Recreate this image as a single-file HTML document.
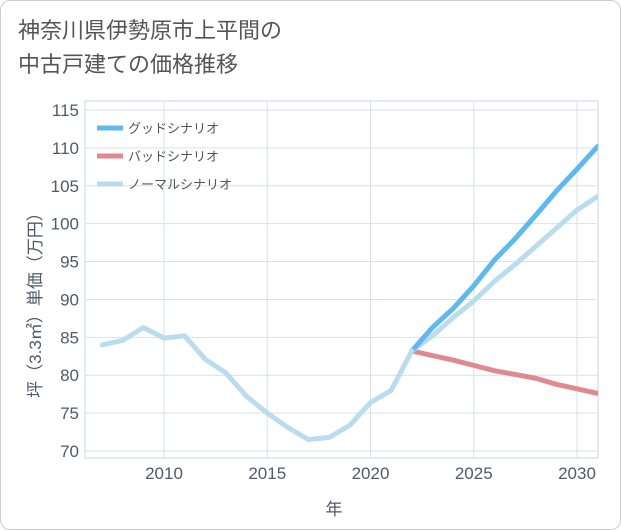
<!DOCTYPE html>
<html><head><meta charset="utf-8"><style>
body{margin:0;background:#fff;font-family:"Liberation Sans","Noto Sans CJK JP",sans-serif;}
#wrap{position:relative;width:619px;height:528px;border:1px solid #ccc;border-radius:10px;overflow:hidden;background:#fff}
#title{position:absolute;left:17px;top:13px;font-size:22px;line-height:34px;color:#555;}
svg{position:absolute;left:0;top:0}
</style></head><body>
<div id="wrap">
<div id="title">神奈川県伊勢原市上平間の<br>中古戸建ての価格推移</div>
<svg id="chart" width="621" height="530"></svg>
</div>
<script>
const histYears=[2007,2008,2009,2010,2011,2012,2013,2014,2015,2016,2017,2018,2019,2020,2021,2022];
const histValues=[84,84.6,86.3,84.9,85.2,82.1,80.3,77.2,75,73.1,71.5,71.8,73.4,76.4,78,83.2];
const futYears=[2022,2023,2024,2025,2026,2027,2028,2029,2030,2031];
const goodValues=[83.2,86.3,88.8,91.8,95.2,98.0,101.1,104.3,107.2,110.2];
const badValues=[83.2,82.6,82.0,81.3,80.6,80.1,79.6,78.8,78.2,77.6];
const normalValues=[83.2,85.2,87.6,89.8,92.4,94.6,97.0,99.4,101.8,103.6];
const yTicks=[70,75,80,85,90,95,100,105,110,115];
const xTicks=[2010,2015,2020,2025,2030];
const legendLabels=["グッドシナリオ","バッドシナリオ","ノーマルシナリオ"];
const NS="http://www.w3.org/2000/svg";
const L=84,R=597,T=100,B=457;
const xs=y=>163+(y-2010)*(576-163)/20;
const ys=v=>450-(v-70)*(450-109)/45;
const svg=document.getElementById('chart');
function mk(t,a){const e=document.createElementNS(NS,t);for(const k in a)e.setAttribute(k,a[k]);svg.appendChild(e);return e;}
let e=mk('rect',{x:L,y:T,width:R-L,height:B-T,fill:'#fff',stroke:'#c8d6e5'});


yTicks.forEach(v=>{
 let g=mk('line',{x1:L,x2:R,y1:ys(v),y2:ys(v),stroke:'#d6e2ee'});
 
 
 let t=mk('text',{x:L-6,y:ys(v)+6,'text-anchor':'end','font-size':17,fill:'#4f5b68'});t.textContent=v;
 
 
});
xTicks.forEach(v=>{
 let g=mk('line',{x1:xs(v),x2:xs(v),y1:T,y2:B,stroke:'#d6e2ee'});
 
 
 let t=mk('text',{x:xs(v),y:B+21,'text-anchor':'middle','font-size':17,fill:'#4f5b68'});t.textContent=v;
 
 
});
function line(xa,va,c,name){
 const p=mk('polyline',{points:xa.map((x,i)=>xs(x)+','+ys(va[i])).join(' '),fill:'none',stroke:c,'stroke-width':5,'stroke-linejoin':'round','stroke-linecap':'round'});
 
 
}
const cl=document.createElementNS(NS,'clipPath');cl.id='c';const cr=document.createElementNS(NS,'rect');
cr.setAttribute('x',L);cr.setAttribute('y',T);cr.setAttribute('width',R-L);cr.setAttribute('height',B-T);cl.appendChild(cr);svg.appendChild(cl);
line(futYears,badValues,'#e08a90','bad-scenario-line');
line(futYears,normalValues,'#b9dcee','normal-scenario-line');
line(futYears,goodValues,'#5fb8f0','good-scenario-line');
line(histYears,histValues,'#b9dcee','historical-line');
svg.querySelectorAll('polyline').forEach(p=>p.setAttribute('clip-path','url(#c)'));
const lc=['#5fb8f0','#e08a90','#b9dcee'];
legendLabels.forEach((s,i)=>{
 const y=127+i*28;
 let l=mk('line',{x1:96,x2:122,y1:y,y2:y,stroke:lc[i],'stroke-width':5});
 
 
 let t=mk('text',{x:127,y:y+5,'font-size':13,fill:'#555'});t.textContent=s;
 
 
});
let yt=mk('text',{x:0,y:0,'font-size':17,fill:'#4f5b68','text-anchor':'middle',transform:'translate(40,300) rotate(-90)'});
yt.textContent='坪（3.3㎡）単価（万円）';


let xt=mk('text',{x:333,y:514,'font-size':17,fill:'#4f5b68','text-anchor':'middle'});
xt.textContent='年';


</script>
</body></html>
